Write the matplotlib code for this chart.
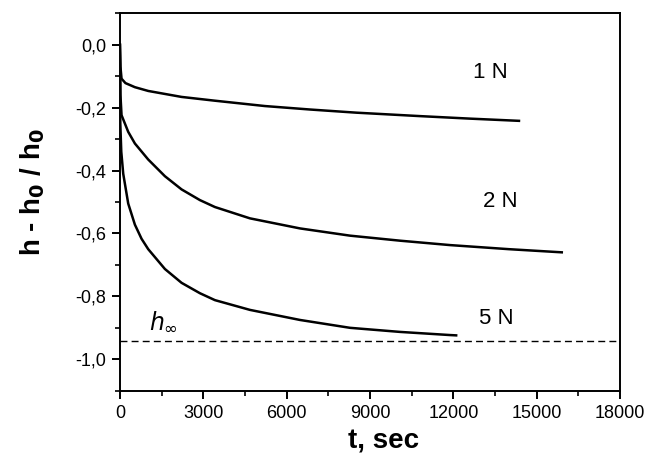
import matplotlib
matplotlib.use("Agg")
import matplotlib.pyplot as plt
from matplotlib.ticker import MultipleLocator, FuncFormatter

plt.rcParams['font.family'] = ['Liberation Sans', 'DejaVu Sans']

# creep curves (t in sec, relative height)
t_1n = [0, 20, 60, 200, 540, 1020, 2220, 3420, 5220, 6840, 8500, 10800, 12600, 14360]
h_1n = [0, -0.07, -0.108, -0.122, -0.135, -0.147, -0.166, -0.178, -0.195, -0.206, -0.216, -0.227, -0.235, -0.242]

t_2n = [0, 20, 60, 300, 540, 1020, 1620, 2220, 2880, 3420, 4680, 6480, 8280, 10080, 11880, 14000, 15900]
h_2n = [0, -0.16, -0.224, -0.277, -0.314, -0.365, -0.418, -0.46, -0.494, -0.516, -0.552, -0.584, -0.607, -0.623, -0.637, -0.65, -0.66]

t_5n = [0, 15, 50, 120, 300, 540, 780, 1020, 1620, 2220, 2880, 3420, 4680, 6480, 8280, 10080, 11880, 12100]
h_5n = [0, -0.25, -0.34, -0.41, -0.505, -0.572, -0.617, -0.65, -0.713, -0.757, -0.79, -0.812, -0.843, -0.875, -0.9, -0.913, -0.923, -0.924]

h_inf = -0.943
labels = ["1 N", "2 N", "5 N"]
label_pos = [(13330, -0.088), (13700, -0.50), (13550, -0.869)]

fig = plt.figure(figsize=(6.48, 4.57), dpi=100)
ax = fig.add_axes([0.185, 0.145, 0.772, 0.826])

for t, h in ((t_1n, h_1n), (t_2n, h_2n), (t_5n, h_5n)):
    ax.plot(t, h, color="black", lw=1.8, solid_joinstyle="round")

ax.axhline(h_inf, color="black", lw=1.0, ls=(0, (5, 3)))

for lab, (x, y) in zip(labels, label_pos):
    ax.text(x, y, lab, fontsize=16, ha="center", va="center")
ax.text(1050, -0.88, r"$h_{\infty}$", fontsize=17, ha="left", va="center")

ax.set_xlim(0, 18000)
ax.set_ylim(-1.1, 0.1)
ax.xaxis.set_major_locator(MultipleLocator(3000))
ax.xaxis.set_minor_locator(MultipleLocator(1500))
ax.yaxis.set_major_locator(MultipleLocator(0.2))
ax.yaxis.set_minor_locator(MultipleLocator(0.1))
ax.yaxis.set_major_formatter(FuncFormatter(lambda v, p: f"{v:.1f}".replace(".", ",").replace("-0,0", "0,0")))

ax.tick_params(which="major", direction="out", length=6, width=1.4, labelsize=13, pad=4)
ax.tick_params(which="minor", direction="out", length=3.5, width=1.2)
for s in ax.spines.values():
    s.set_linewidth(1.4)

ax.set_xlabel("t, sec", fontsize=20, fontweight="bold")
ax.xaxis.set_label_coords(0.528, -0.1)
ax.set_ylabel(r"h - h$_\mathbf{0}$ / h$_\mathbf{0}$", fontsize=20, fontweight="bold")
ax.yaxis.set_label_coords(-0.146, 0.527)

fig.savefig("out.png", dpi=100)
